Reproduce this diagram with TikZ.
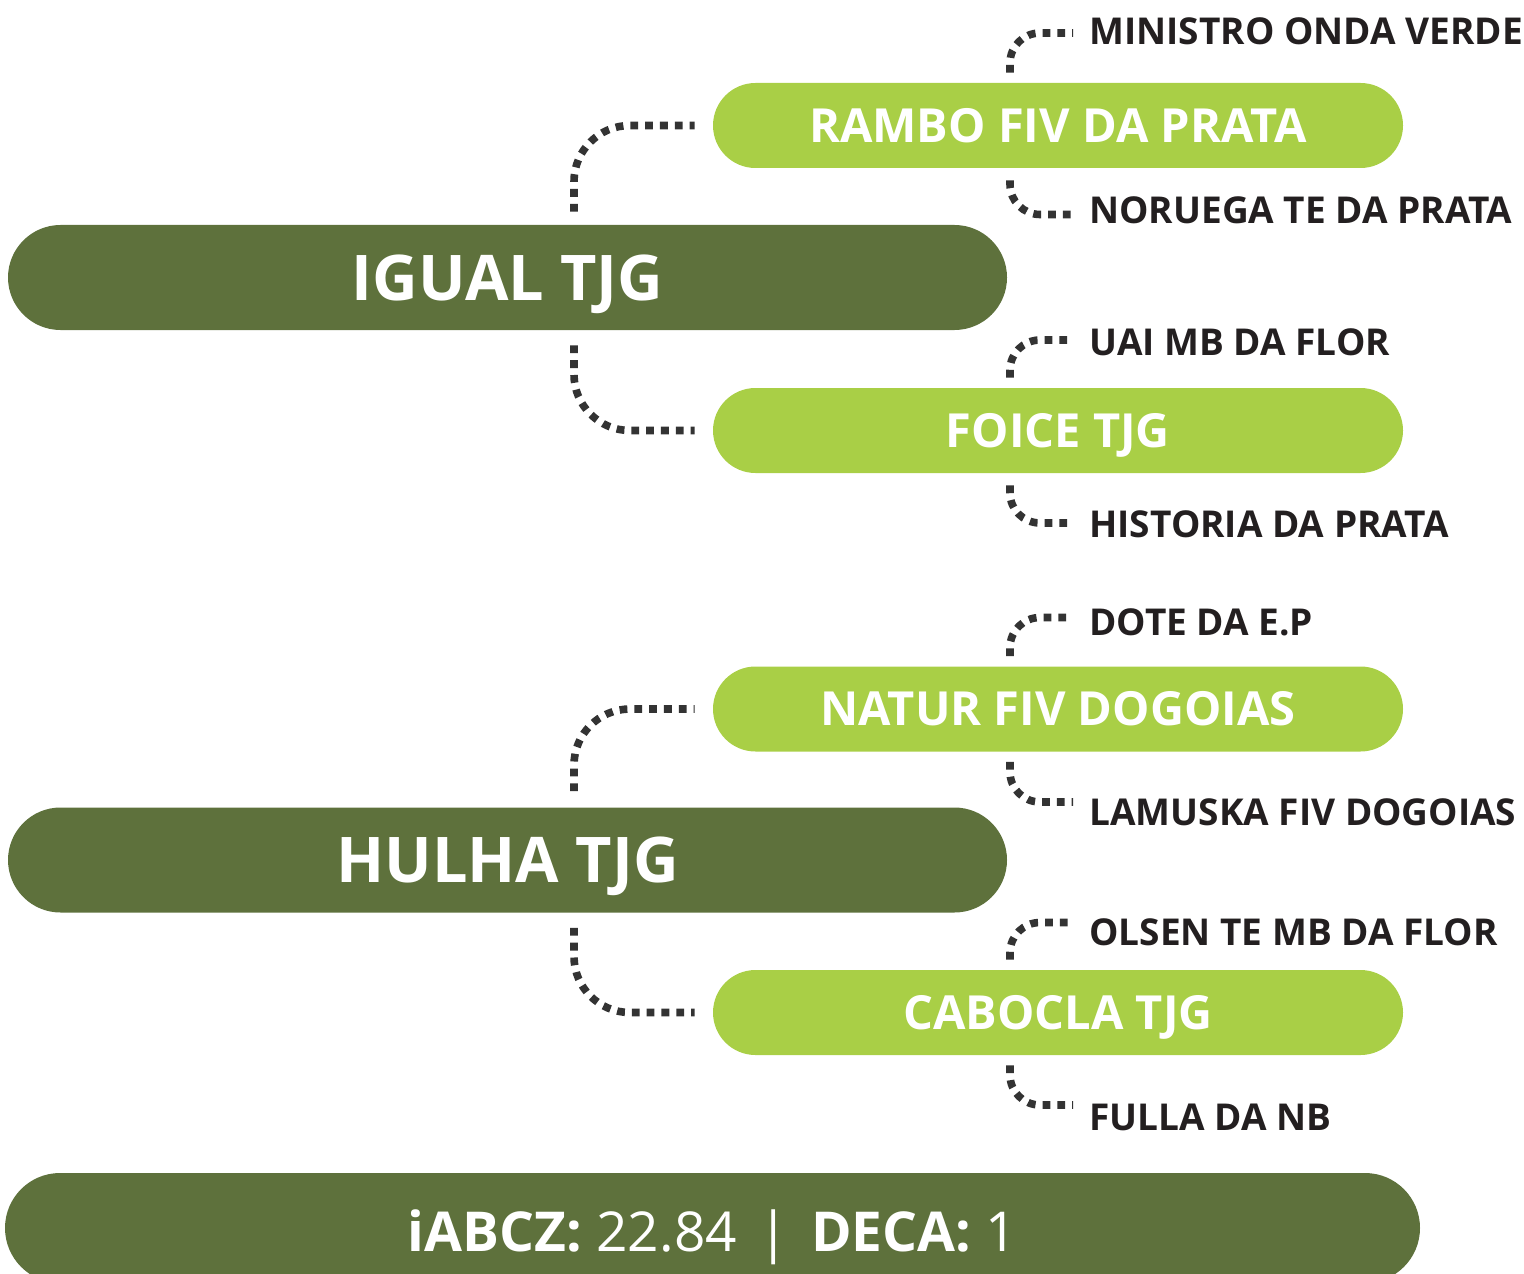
\documentclass[tikz,border=0pt]{standalone}
\usepackage{fontspec}
\setmainfont{Open Sans}
\definecolor{darkg}{RGB}{94,113,60}
\definecolor{lightg}{RGB}{169,207,70}
\definecolor{dotc}{RGB}{51,51,51}
\definecolor{leafc}{RGB}{35,31,32}
\begin{document}
\begin{tikzpicture}[x=0.5pt,y=-0.5pt,
  darkbar/.style={fill=darkg, text=white, font=\bfseries\fontsize{31.5}{32}\selectfont,
    minimum width=499.5pt, minimum height=52.5pt, rounded corners=26.25pt,
    inner sep=0pt, text height=22.5pt, text depth=0pt},
  lightbar/.style={fill=lightg, text=white, font=\bfseries\fontsize{23.5}{24}\selectfont,
    minimum width=345pt, minimum height=42.5pt, rounded corners=21.25pt,
    inner sep=0pt, text height=16.8pt, text depth=0pt},
  leaf/.style={anchor=west, inner sep=0pt, text=leafc, font=\bfseries\fontsize{18.5}{19}\selectfont,
    text height=13.2pt, text depth=0pt},
  dotline/.style={draw=dotc, line width=3.8pt, dash pattern=on 3.9pt off 3.5pt},
  bigconn/.style={dotline, rounded corners=28pt},
  smallconn/.style={dotline, rounded corners=15pt},
]
\useasboundingbox (0,0) rectangle (1524,1273);
\clip (0,0) rectangle (1524,1273);

% main bars
\node[darkbar] (igual) at (507.5,277.5) {IGUAL TJG};
\node[darkbar] (hulha) at (507.5,860) {HULHA TJG};

% second level bars
\node[lightbar] (rambo) at (1058,125.5) {RAMBO FIV DA PRATA};
\node[lightbar] (foice) at (1058,430.5) {FOICE TJG};
\node[lightbar] (natur) at (1058,709) {NATUR FIV DOGOIAS};
\node[lightbar] (cabocla) at (1058,1012.5) {CABOCLA TJG};

% leaves
\node[leaf] (ministro) at (1089,31) {MINISTRO ONDA VERDE};
\node[leaf] (noruega) at (1089,210.5) {NORUEGA TE DA PRATA};
\node[leaf] (uai) at (1089,342) {UAI MB DA FLOR};
\node[leaf] (historia) at (1089,524) {HISTORIA DA PRATA};
\node[leaf] (dote) at (1089,622.5) {DOTE DA E.P};
\node[leaf] (lamuska) at (1089,812) {LAMUSKA FIV DOGOIAS};
\node[leaf] (olsen) at (1089,932.5) {OLSEN TE MB DA FLOR};
\node[leaf] (fulla) at (1089,1117) {FULLA DA NB};

% main -> second level connectors
\draw[bigconn, shorten <=6.5pt, shorten >=9pt] ([xshift=33.25pt]igual.north) |- (rambo.west);
\draw[bigconn, shorten <=7.5pt, shorten >=9pt] ([xshift=33.25pt]igual.south) |- (foice.west);
\draw[bigconn, shorten <=8pt, shorten >=9pt] ([xshift=33.25pt]hulha.north) |- (natur.west);
\draw[bigconn, shorten <=7.5pt, shorten >=9pt] ([xshift=33.25pt]hulha.south) |- (cabocla.west);

% second level -> leaves
\draw[smallconn, shorten <=5pt, shorten >=8pt] ([xshift=-24pt]rambo.north) |- ([yshift=-1pt]ministro.west);
\draw[smallconn, shorten <=6pt, shorten >=8pt] ([xshift=-24pt]rambo.south) |- ([yshift=-2pt]noruega.west);
\draw[smallconn, shorten <=5pt, shorten >=8pt] ([xshift=-24pt]foice.north) |- ([yshift=1pt]uai.west);
\draw[smallconn, shorten <=6pt, shorten >=8pt] ([xshift=-24pt]foice.south) |- ([yshift=0.5pt]historia.west);
\draw[smallconn, shorten <=5pt, shorten >=8pt] ([xshift=-24pt]natur.north) |- ([yshift=2.5pt]dote.west);
\draw[smallconn, shorten <=5pt, shorten >=8pt] ([xshift=-24pt]natur.south) |- ([yshift=5pt]lamuska.west);
\draw[smallconn, shorten <=5pt, shorten >=8pt] ([xshift=-24pt]cabocla.north) |- ([yshift=5pt]olsen.west);
\draw[smallconn, shorten <=5pt, shorten >=8pt] ([xshift=-24pt]cabocla.south) |- ([yshift=6pt]fulla.west);

% bottom bar
\node[fill=darkg, text=white, font=\fontsize{27.5}{28}\selectfont,
  minimum width=707.5pt, minimum height=55pt, rounded corners=27.5pt,
  inner sep=0pt, text height=23.6pt, text depth=0pt] (stats) at (712.5,1228)
  {\textbf{iABCZ:} 22.84\hspace{11pt}|\hspace{11pt}\textbf{DECA:} 1};
\end{tikzpicture}
\end{document}
